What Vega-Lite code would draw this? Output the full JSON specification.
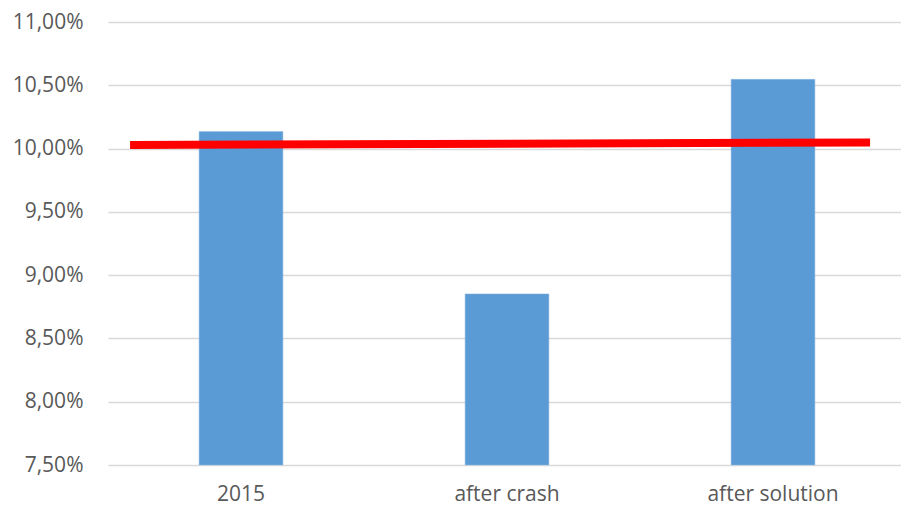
{
  "$schema": "https://vega.github.io/schema/vega-lite/v6.json",
  "autosize": "none",
  "padding": {"left": 108, "top": 22, "right": 0, "bottom": 45},
  "width": 798,
  "height": 443,
  "background": "white",
  "config": {
    "view": {"stroke": null},
    "axis": {"labelFont": "Open Sans", "labelColor": "#595959", "labelFontSize": 21}
  },
  "layer": [
    {
      "data": {"values": [
        {"period": "2015", "rate": 10.134},
        {"period": "after crash", "rate": 8.852},
        {"period": "after solution", "rate": 10.547}
      ]},
      "mark": {"type": "bar", "color": "#5B9BD5", "stroke": "#8DB8E2", "strokeWidth": 0.5},
      "encoding": {
        "x": {
          "field": "period", "type": "nominal", "sort": null,
          "scale": {"paddingInner": 0.685, "paddingOuter": 0.3425},
          "axis": {"title": null, "labelAngle": 0, "domain": false, "ticks": false, "labelPadding": 18, "labelFontSize": 21}
        },
        "y": {
          "field": "rate", "type": "quantitative",
          "scale": {"domain": [7.5, 11], "zero": false, "nice": false},
          "axis": {
            "title": null, "values": [7.5, 8, 8.5, 9, 9.5, 10, 10.5, 11],
            "labelExpr": "replace(format(datum.value, '.2f'), '.', ',') + '%'",
            "domain": false, "ticks": false, "labelPadding": 25,
            "gridColor": "#D9D9D9", "gridWidth": 1.5
          }
        },
        "y2": {"datum": 7.5}
      }
    },
    {
      "data": {"values": [
        {"pos": 0.083, "target": 10.028},
        {"pos": 2.865, "target": 10.048}
      ]},
      "mark": {"type": "line", "color": "#FF0000", "strokeWidth": 8, "strokeCap": "butt"},
      "encoding": {
        "x": {"field": "pos", "type": "quantitative", "scale": {"domain": [0, 3], "nice": false}, "axis": null},
        "y": {"field": "target", "type": "quantitative"}
      }
    }
  ],
  "resolve": {"scale": {"x": "independent"}}
}
